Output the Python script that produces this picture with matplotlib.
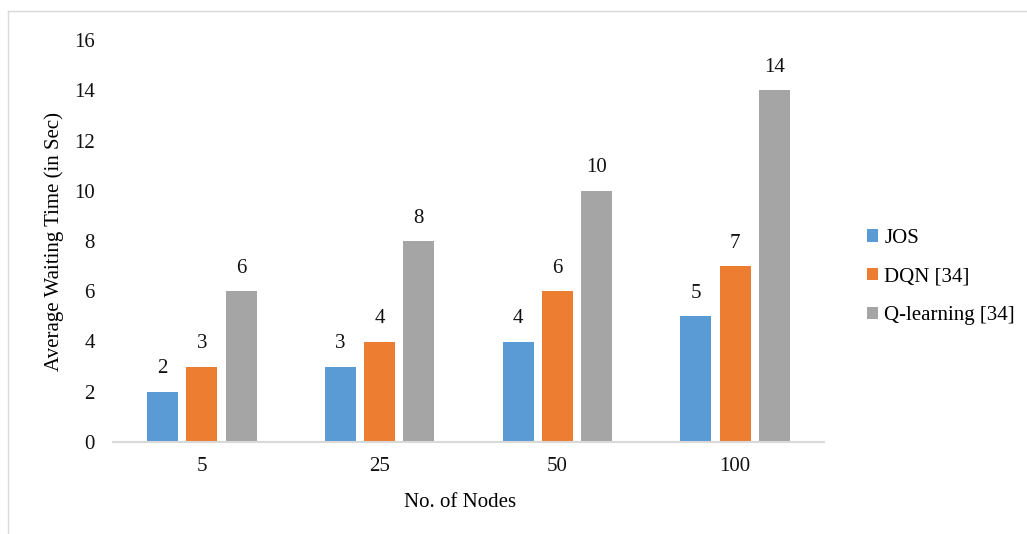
import matplotlib.pyplot as plt
import numpy as np
from matplotlib.lines import Line2D
from matplotlib.patches import Patch

# Average waiting time per node count
node_counts = ["5", "25", "50", "100"]
series_names = ["JOS", "DQN [34]", "Q-learning [34]"]
jos_times = [2, 3, 4, 5]
dqn_times = [3, 4, 6, 7]
qlearning_times = [6, 8, 10, 14]
y_ticks = [0, 2, 4, 6, 8, 10, 12, 14, 16]

colors = ["#5B9BD5", "#ED7D31", "#A5A5A5"]

plt.rcParams["font.family"] = ["Liberation Serif", "DejaVu Serif"]
FS = 15

fig = plt.figure(figsize=(10.27, 5.34), dpi=100)
ax = fig.add_axes([113 / 1027, 1 - 442 / 534, 711 / 1027, 402 / 534])

x = np.arange(len(node_counts))
bar_width = 0.175
step = 0.221

for i, (name, values, color) in enumerate(
    zip(series_names, [jos_times, dqn_times, qlearning_times], colors)
):
    positions = x + (i - 1) * step
    ax.bar(positions, values, width=bar_width, color=color, label=name, zorder=2)
    for px, v in zip(positions, values):
        ax.annotate(
            str(v),
            xy=(px, v),
            xytext=(0, 16.5),
            textcoords="offset points",
            ha="center",
            va="center",
            fontsize=FS,
            color="#111111",
        )

ax.set_xlim(-0.5, len(node_counts) - 0.5)
ax.set_ylim(0, 16)
ax.set_xticks(x)
ax.set_xticklabels(node_counts)
ax.set_yticks(y_ticks)
ax.tick_params(axis="both", length=0, labelsize=FS, colors="#111111")
ax.tick_params(axis="x", pad=11)
ax.tick_params(axis="y", pad=13)

for side in ["top", "right", "left"]:
    ax.spines[side].set_visible(False)
ax.spines["bottom"].set_color("#d9d9d9")
ax.spines["bottom"].set_linewidth(1.5)

ax.set_xlabel("No. of Nodes", fontsize=FS)
ax.xaxis.set_label_coords(0.488, -0.128)
ax.set_ylabel("Average Waiting Time (in Sec)", fontsize=FS, labelpad=7)

handles = [Patch(facecolor=c, edgecolor="none") for c in colors]
fig.legend(
    handles,
    series_names,
    loc="center left",
    bbox_to_anchor=(848 / 1027, 1 - 277 / 534),
    frameon=False,
    fontsize=FS,
    handlelength=0.55,
    handleheight=0.55,
    handletextpad=0.3,
    labelspacing=0.95,
)

# light chart-area frame
fig.add_artist(Line2D([8 / 1027, 8 / 1027], [0, 1 - 11 / 534],
                      transform=fig.transFigure, color="#d9d9d9", lw=1))
fig.add_artist(Line2D([8 / 1027, 1], [1 - 11 / 534, 1 - 11 / 534],
                      transform=fig.transFigure, color="#d9d9d9", lw=1))

fig.savefig("out.png", dpi=100)
